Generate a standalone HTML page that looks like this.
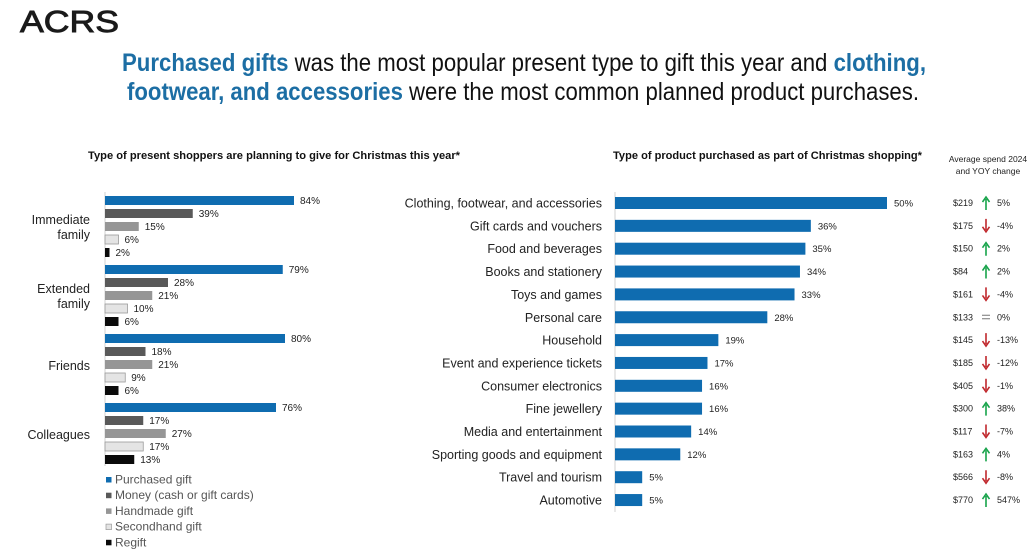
<!DOCTYPE html>
<html><head><meta charset="utf-8"><style>
body{margin:0;background:#fff;}
svg{display:block;font-family:"Liberation Sans",Arial,sans-serif;}
</style></head><body>
<svg id="s" width="1033" height="550" viewBox="0 0 1033 550">
<text x="20" y="32" font-size="31" fill="#1a1a1a" stroke="#1a1a1a" stroke-width="0.9" textLength="99" lengthAdjust="spacingAndGlyphs">ACRS</text>
<text x="122" y="71" font-size="25" fill="#111" textLength="804" lengthAdjust="spacingAndGlyphs"><tspan fill="#1c6ea4" font-weight="bold">Purchased gifts</tspan> was the most popular present type to gift this year and <tspan fill="#1c6ea4" font-weight="bold">clothing,</tspan></text>
<text x="127" y="100" font-size="25" fill="#111" textLength="792" lengthAdjust="spacingAndGlyphs"><tspan fill="#1c6ea4" font-weight="bold">footwear, and accessories</tspan> were the most common planned product purchases.</text>
<text x="88" y="159" font-size="11" font-weight="bold" fill="#111" textLength="372" lengthAdjust="spacingAndGlyphs">Type of present shoppers are planning to give for Christmas this year*</text>
<text x="613" y="159" font-size="11" font-weight="bold" fill="#111" textLength="309" lengthAdjust="spacingAndGlyphs">Type of product purchased as part of Christmas shopping*</text>
<text x="988" y="162" font-size="8.5" fill="#222" text-anchor="middle">Average spend 2024</text>
<text x="988" y="174" font-size="8.5" fill="#222" text-anchor="middle">and YOY change</text>
<g id="left"></g><g id="right"></g><g id="spend"></g><g id="legend"></g>
</svg>
<script>
const groups=["Immediate family","Extended family","Friends","Colleagues"];
const seriesNames=["Purchased gift","Money (cash or gift cards)","Handmade gift","Secondhand gift","Regift"];
const purchased=[84,79,80,76];
const money=[39,28,18,17];
const handmade=[15,21,21,27];
const secondhand=[6,10,9,17];
const regift=[2,6,6,13];
const products=["Clothing, footwear, and accessories","Gift cards and vouchers","Food and beverages","Books and stationery","Toys and games","Personal care","Household","Event and experience tickets","Consumer electronics","Fine jewellery","Media and entertainment","Sporting goods and equipment","Travel and tourism","Automotive"];
const productPct=[50,36,35,34,33,28,19,17,16,16,14,12,5,5];
const spend=["$219","$175","$150","$84","$161","$133","$145","$185","$405","$300","$117","$163","$566","$770"];
const yoy=[5,-4,2,2,-4,0,-13,-12,-1,38,-7,4,-8,547];

const NS="http://www.w3.org/2000/svg";
function mk(p,t,a){const e=document.createElementNS(NS,t);for(const k in a)e.setAttribute(k,a[k]);p.appendChild(e);return e;}
const fills=["#0f6cb0","#595959","#969696","#e4e4e4","#0a0a0a"];
const strokes=["none","none","none","#9a9a9a","none"];
const series=[purchased,money,handmade,secondhand,regift];
const L=document.getElementById('left');
const lx=v=>105+v*2.25;
mk(L,'line',{x1:105,y1:192,x2:105,y2:466,stroke:'#d0d0d0','stroke-width':1});
groups.forEach((g,gi)=>{
  const y0=196+gi*69;
  series.forEach((s,si)=>{
    const y=y0+si*13;
    const r=mk(L,'rect',{x:105,y:y,width:lx(s[gi])-105,height:9,fill:fills[si],stroke:strokes[si],'stroke-width':0.8});
    
    
    const t=mk(L,'text',{x:lx(s[gi])+6,y:y+8,'font-size':10,fill:'#222'});
    t.textContent=s[gi]+'%';
    
    
  });
  const words=g.split(' ');
  const cy=y0+31;
  if(words.length===2){
    const t1=mk(L,'text',{x:90,y:cy-3,'font-size':12.5,fill:'#222','text-anchor':'end'});t1.textContent=words[0];
    
    
    const t2=mk(L,'text',{x:90,y:cy+12,'font-size':12.5,fill:'#222','text-anchor':'end'});t2.textContent=words[1];
    
    
  } else {
    const t=mk(L,'text',{x:90,y:cy+5,'font-size':12.5,fill:'#222','text-anchor':'end'});t.textContent=g;
    
    
  }
});
const G=document.getElementById('legend');
seriesNames.forEach((n,i)=>{
  const y=482+i*15.7;
  const r=mk(G,'rect',{x:106,y:y-5,width:5.5,height:5.5,fill:fills[i],stroke:strokes[i],'stroke-width':0.7});
  
  
  const t=mk(G,'text',{x:115,y:y+1.5,'font-size':12,fill:'#555'});t.textContent=n;
  
  
});
const R=document.getElementById('right');
const rx=v=>615+v*5.44;
mk(R,'line',{x1:615,y1:192,x2:615,y2:512,stroke:'#d0d0d0','stroke-width':1});
const S=document.getElementById('spend');
products.forEach((p,i)=>{
  const cy=203+i*22.85;
  const r=mk(R,'rect',{x:615,y:cy-6,width:rx(productPct[i])-615,height:12,fill:'#0f6cb0'});
  
  
  const v=mk(R,'text',{x:rx(productPct[i])+7,y:cy+3.5,'font-size':9.5,fill:'#222'});v.textContent=productPct[i]+'%';
  
  
  const c=mk(R,'text',{x:602,y:cy+4.5,'font-size':12.5,fill:'#222','text-anchor':'end'});c.textContent=p;
  
  
  const sp=mk(S,'text',{x:953,y:cy+3,'font-size':9,fill:'#222'});sp.textContent=spend[i];
  
  
  const ax=986;
  if(yoy[i]>0){
    const a=mk(S,'path',{d:`M${ax} ${cy+7}V${cy-4}M${ax-3.5} ${cy-1}L${ax} ${cy-6}L${ax+3.5} ${cy-1}`,stroke:'#17a34a','stroke-width':1.6,fill:'none'});
    
    
  } else if(yoy[i]<0){
    const a=mk(S,'path',{d:`M${ax} ${cy-7}V${cy+4}M${ax-3.5} ${cy+1}L${ax} ${cy+6}L${ax+3.5} ${cy+1}`,stroke:'#c0282d','stroke-width':1.6,fill:'none'});
    
    
  } else {
    const a=mk(S,'path',{d:`M${ax-4} ${cy-2}H${ax+4}M${ax-4} ${cy+1.5}H${ax+4}`,stroke:'#777','stroke-width':1,fill:'none'});
    
    
  }
  const yt=mk(S,'text',{x:997,y:cy+3,'font-size':9,fill:'#222'});yt.textContent=yoy[i]+'%';
  
  
});
</script>
</body></html>
